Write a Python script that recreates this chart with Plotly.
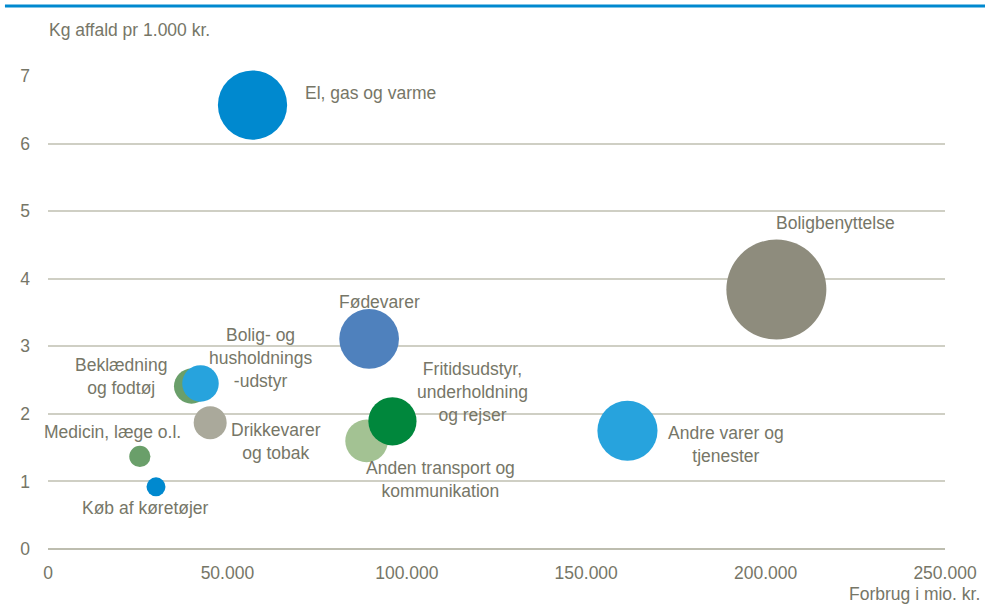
import plotly.graph_objects as go

# Data
categories = ["Beklædning og fodtøj", "Bolig- og husholdningsudstyr", "El, gas og varme",
              "Boligbenyttelse", "Andre varer og tjenester", "Fødevarer",
              "Anden transport og kommunikation", "Fritidsudstyr, underholdning og rejser",
              "Drikkevarer og tobak", "Medicin, læge o.l.", "Køb af køretøjer"]
forbrug = [40000, 42500, 57000, 203000, 161500, 89500, 88800, 96000, 45200, 25600, 30100]  # mio. kr.
affald_pr_kr = [2.41, 2.45, 6.57, 3.84, 1.75, 3.11, 1.60, 1.89, 1.87, 1.37, 0.92]  # kg pr 1.000 kr.
affald_total = [96, 104, 374, 780, 282, 278, 142, 181, 85, 35, 28]  # 1.000 tons (bubble size)
labels = ["Beklædning<br>og fodtøj", "Bolig- og<br>husholdnings<br>-udstyr", "El, gas og varme",
          "Boligbenyttelse", "Andre varer og<br>tjenester", "Fødevarer",
          "Anden transport og<br>kommunikation", "Fritidsudstyr,<br>underholdning<br>og rejser",
          "Drikkevarer<br>og tobak", "Medicin, læge o.l.", "Køb af køretøjer"]
x_ticks = [0, 50000, 100000, 150000, 200000, 250000]
x_tick_text = ["0", "50.000", "100.000", "150.000", "200.000", "250.000"]
y_ticks = [0, 1, 2, 3, 4, 5, 6, 7]

# Styles
colors = ["#6A9F6A", "#27A3DD", "#0089CF", "#8E8C7D", "#27A3DD", "#4F81BD",
          "#A3C293", "#00873C", "#AAA99B", "#6A9F6A", "#0089CF"]
label_shift = [(-71, 10), (60, 25), (118, 12), (59, 67), (99, -14), (10, 37),
               (74, -39), (80, 29), (66, -19), (-27, 24), (-11, -21)]

FONT = "Liberation Sans, Arial, sans-serif"
TXT = "#767667"
FS = 17.5

fig = go.Figure()
for i in range(len(categories)):
    fig.add_trace(go.Scatter(
        x=[forbrug[i]], y=[affald_pr_kr[i]], mode="markers", name=categories[i],
        marker=dict(size=[affald_total[i]], sizemode="area", sizeref=0.156,
                    color=colors[i], opacity=1, line=dict(width=0)),
        cliponaxis=False, showlegend=False))
    fig.add_annotation(x=forbrug[i], y=affald_pr_kr[i], text=labels[i], showarrow=False,
                       xshift=label_shift[i][0], yshift=label_shift[i][1],
                       font=dict(family=FONT, size=FS, color=TXT), align="center")

fig.update_layout(
    width=985, height=615, plot_bgcolor="white", paper_bgcolor="white",
    margin=dict(l=48, r=40, t=76, b=66, autoexpand=False),
    font=dict(family=FONT, size=FS, color=TXT),
    xaxis=dict(range=[0, 250000], tickvals=x_ticks, ticktext=x_tick_text, showgrid=False,
               zeroline=False, showline=False, ticks="", ticklabelstandoff=11, automargin=False,
               tickfont=dict(family=FONT, size=FS, color=TXT)),
    yaxis=dict(range=[0, 7], tickvals=y_ticks, showgrid=True, gridcolor="#CFCFC4", gridwidth=1.5,
               zeroline=True, zerolinecolor="#BDBDAF", zerolinewidth=1.5, showline=False, ticks="",
               ticklabelstandoff=17, automargin=False,
               tickfont=dict(family=FONT, size=FS, color=TXT)),
)
fig.add_shape(type="line", xref="paper", yref="paper", x0=-0.048, x1=1.045, y0=1.148, y1=1.148,
              line=dict(color="#0089CF", width=3))
fig.add_annotation(xref="paper", yref="paper", x=-0.001, y=1.097, text="Kg affald pr 1.000 kr.",
                   showarrow=False, xanchor="left", yanchor="middle",
                   font=dict(family=FONT, size=FS, color=TXT))
fig.add_annotation(xref="paper", yref="paper", x=1.041, y=-0.095, text="Forbrug i mio. kr.",
                   showarrow=False, xanchor="right", yanchor="middle",
                   font=dict(family=FONT, size=FS, color=TXT))
fig.write_html("out.html", config={"displayModeBar": False},
               post_script="document.body.style.margin='0';document.body.style.overflow='hidden';")
